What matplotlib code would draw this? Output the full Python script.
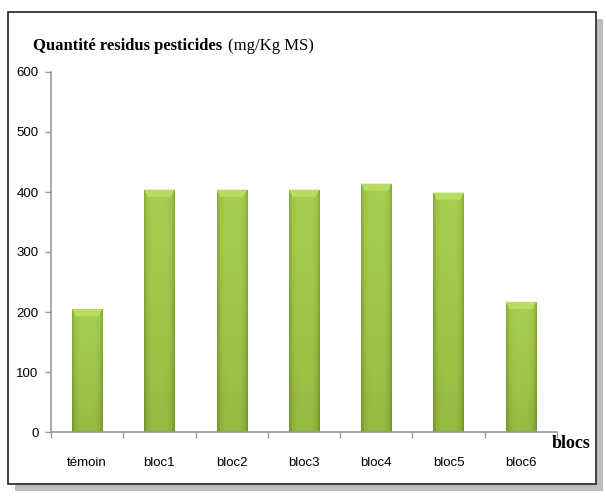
import numpy as np
import matplotlib.pyplot as plt
from matplotlib.patches import Rectangle, Polygon
from matplotlib.colors import LinearSegmentedColormap

categories = ["témoin", "bloc1", "bloc2", "bloc3", "bloc4", "bloc5", "bloc6"]
values = [205, 404, 404, 404, 414, 399, 217]
yticks = [0, 100, 200, 300, 400, 500, 600]

sans = ["Liberation Sans", "DejaVu Sans"]
serif = ["Liberation Serif", "DejaVu Serif"]

fig = plt.figure(figsize=(6.06, 4.98), dpi=100)

# frame with drop shadow
fig.patches.append(Rectangle((15 / 606, 1 - 491 / 498), 588 / 606, 472 / 498,
                             transform=fig.transFigure, facecolor="#bdbdbd",
                             edgecolor="none", zorder=0))
fig.patches.append(Rectangle((8 / 606, 1 - 484 / 498), 588 / 606, 472 / 498,
                             transform=fig.transFigure, facecolor="white",
                             edgecolor="#333333", linewidth=1.3, zorder=1))

ax = fig.add_axes([51 / 606, 1 - 432 / 498, 506 / 606, 360 / 498])
ax.set_zorder(2)
ax.patch.set_alpha(0)

x = np.arange(len(categories))
bars = ax.bar(x, values, width=0.42, color="#8db03a", edgecolor="none", zorder=2)

# gradient fill for each bar
cmap = LinearSegmentedColormap.from_list(
    "g", ["#6a8a28", "#86a836", "#9cc146", "#a8cf50"])
h = np.linspace(0, 1, 40)
prof_x = 1 - 0.45 * np.abs(np.linspace(-1, 1, 40)) ** 4
for b in bars:
    bx, by = b.get_x(), b.get_y()
    bw, bh = b.get_width(), b.get_height()
    vert = 0.7 + 0.3 * h[:, None]
    img = vert * prof_x[None, :]
    im = ax.imshow(img, extent=[bx, bx + bw, by, by + bh], origin="lower",
                   cmap=cmap, vmin=0.3, vmax=1, aspect="auto", zorder=2.5)
    im.set_clip_path(b)
    # bevel on top
    top = by + bh
    ins = bw * 0.12
    ax.add_patch(Polygon([(bx, top), (bx + bw, top), (bx + bw - ins, top - 12),
                          (bx + ins, top - 12)], closed=True,
                         facecolor="#b8dc62", edgecolor="none", zorder=2.6))

ax.set_xlim(-0.5, len(categories) - 0.5)
ax.set_ylim(0, 600)
ax.set_yticks(yticks)
ax.set_yticklabels([str(v) for v in yticks], family=sans, fontsize=9.5)

ax.set_xticks(x)
ax.set_xticklabels(categories, family=sans, fontsize=9.5)
ax.set_xticks(np.arange(-0.5, len(categories), 1), minor=True)
ax.tick_params(axis="x", which="major", length=0, pad=18)
ax.tick_params(axis="x", which="minor", length=4, color="#999999", width=1)
ax.tick_params(axis="y", length=4, color="#999999", width=1, pad=5)

for s in ["top", "right"]:
    ax.spines[s].set_visible(False)
for s in ["left", "bottom"]:
    ax.spines[s].set_color("#999999")
    ax.spines[s].set_linewidth(1.2)

t1 = fig.text(33 / 606, 1 - 46 / 498, "Quantité residus pesticides", family=serif,
              fontweight="bold", fontsize=12, va="center", ha="left", zorder=3)
fig.canvas.draw()
bb = t1.get_window_extent()
fig.text(bb.x1 / 606 + 6 / 606, 1 - 46 / 498, "(mg/Kg MS)", family=serif,
         fontsize=12, va="center", ha="left", zorder=3)
fig.text(552 / 606, 1 - 443 / 498, "blocs", family=serif,
         fontweight="bold", fontsize=13, va="center", ha="left", zorder=3)

fig.savefig("out.png", dpi=100)
